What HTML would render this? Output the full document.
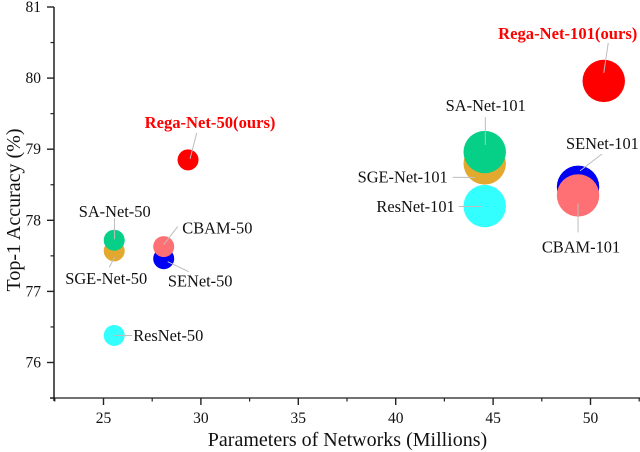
<!DOCTYPE html>
<html>
<head>
<meta charset="utf-8">
<title>Top-1 Accuracy vs Parameters</title>
<style>
html,body{margin:0;padding:0;background:#fff;}
svg{display:block;font-family:"Liberation Serif",serif;}
</style>
</head>
<body>
<svg id="chart" width="640" height="452" viewBox="0 0 640 452" xmlns="http://www.w3.org/2000/svg">
<text x="347.5" y="446" text-anchor="middle" font-size="20" fill="#111">Parameters of Networks (Millions)</text>
<text transform="translate(20,210) rotate(-90)" text-anchor="middle" font-size="20" fill="#111">Top-1 Accuracy (%)</text>
</svg>
<script>
const models = ['ResNet-50','SGE-Net-50','SA-Net-50','SENet-50','CBAM-50','Rega-Net-50(ours)','ResNet-101','SGE-Net-101','SA-Net-101','SENet-101','CBAM-101','Rega-Net-101(ours)'];
const params = [25.55,25.55,25.55,28.09,28.09,29.34,44.57,44.57,44.57,49.36,49.36,50.68];
const accuracy = [76.38,77.57,77.72,77.46,77.63,78.85,78.20,78.80,78.96,78.47,78.35,79.96];
const depth = [50,50,50,50,50,50,101,101,101,101,101,101];
const xTicks = [25,30,35,40,45,50];
const yTicks = [76,77,78,79,80,81];

const SVGNS = 'http://www.w3.org/2000/svg';
const svg = document.getElementById('chart');
const xScale = v => 103.5 + (v - 25) * 19.48;
const yScale = v => 362.5 - (v - 76) * 71.1;
const rScale = d => d * 0.21;
const left = 54, bottom = 398;

const colorOf = {
  'ResNet': '#33ffff', 'SGE': '#e3a92f', 'SA': '#06cf88',
  'SENet': '#0000f5', 'CBAM': '#ff7074', 'Rega': '#fe0000'
};
function familyColor(name) {
  return colorOf[Object.keys(colorOf).find(k => name.startsWith(k))];
}
/* label placement relative to each bubble: text offset, anchor, leader start/end offsets */
const labelLayout = {
  'ResNet-50': [19,5.4,'start',0,0,18,0],
  'SGE-Net-50': [-8,33,'middle',0.5,6,-5,16.5],
  'SA-Net-50': [0.5,-23,'middle',0.3,-1,0.3,-22],
  'SENet-50': [36.5,28,'middle',4,3,25,13],
  'CBAM-50': [18.6,-13,'start',0,-2,14,-20],
  'Rega-Net-50(ours)': [22,-32,'middle',2,-1,8.7,-27],
  'ResNet-101': [-30,6,'end',-3,0.4,-26,0.4],
  'SGE-Net-101': [-37,19,'end',-10,14,-32,14],
  'SA-Net-101': [1,-41,'middle',0.6,-7,0.6,-35],
  'SENet-101': [-12,-38,'start',2,-16,24,-33],
  'CBAM-101': [3,57,'middle',0,8,0,37],
  'Rega-Net-101(ours)': [-36,-42,'middle',0,-8,4.5,-38]
};

function line(name, x1, y1, x2, y2, stroke, width) {
  const el = document.createElementNS(SVGNS, 'line');
  
  
  el.setAttribute('x1', x1);
  el.setAttribute('y1', y1);
  el.setAttribute('x2', x2);
  el.setAttribute('y2', y2);
  el.setAttribute('stroke', stroke);
  el.setAttribute('stroke-width', width);
  svg.appendChild(el);
}
function text(name, x, y, str, anchor, size, fill, bold) {
  const el = document.createElementNS(SVGNS, 'text');
  
  
  el.setAttribute('x', x);
  el.setAttribute('y', y);
  el.setAttribute('text-anchor', anchor);
  el.setAttribute('font-size', size);
  el.setAttribute('fill', fill);
  if (bold) el.setAttribute('font-weight', 'bold');
  el.textContent = str;
  svg.appendChild(el);
}

/* axes */
line('x-axis-line', 50, bottom, 640, bottom, '#444', 1.6);
line('y-axis-line', left, 7, left, bottom + 3, '#111', 1.4);

xTicks.forEach(t => {
  const x = xScale(t);
  line('x-tick', x, bottom, x, bottom + 7, '#222', 1.4);
  line('x-minor-tick', xScale(t - 2.5), bottom, xScale(t - 2.5), bottom + 3.5, '#222', 1.2);
  text('x-tick-label', x, bottom + 25, String(t), 'middle', 15.5, '#111');
});
line('x-minor-tick', xScale(52.5), bottom, xScale(52.5), bottom + 3.5, '#222', 1.2);

yTicks.forEach(t => {
  const y = yScale(t);
  line('y-tick', left - 7, y, left, y, '#222', 1.4);
  if (t > 76) line('y-minor-tick', left - 3.5, yScale(t - 0.5), left, yScale(t - 0.5), '#222', 1.2);
  text('y-tick-label', left - 13, y + 5, String(t), 'end', 15.5, '#111');
});
line('y-minor-tick', left - 3.5, yScale(75.5), left, yScale(75.5), '#222', 1.2);

/* bubbles */
models.forEach((m, i) => {
  const c = document.createElementNS(SVGNS, 'circle');
  
  
  c.setAttribute('cx', xScale(params[i]));
  c.setAttribute('cy', yScale(accuracy[i]));
  c.setAttribute('r', rScale(depth[i]));
  c.setAttribute('fill', familyColor(m));
  svg.appendChild(c);
});

/* leaders and labels */
models.forEach((m, i) => {
  const cx = xScale(params[i]), cy = yScale(accuracy[i]);
  const p = labelLayout[m];
  const isOurs = m.startsWith('Rega');
  line('leader-line', cx + p[3], cy + p[4], cx + p[5], cy + p[6], '#bdbdbd', 1);
  text('label', cx + p[0], cy + p[1], m, p[2], isOurs ? 16.6 : 16.4, isOurs ? '#fe0000' : '#111', isOurs);
});
</script>
</body>
</html>
